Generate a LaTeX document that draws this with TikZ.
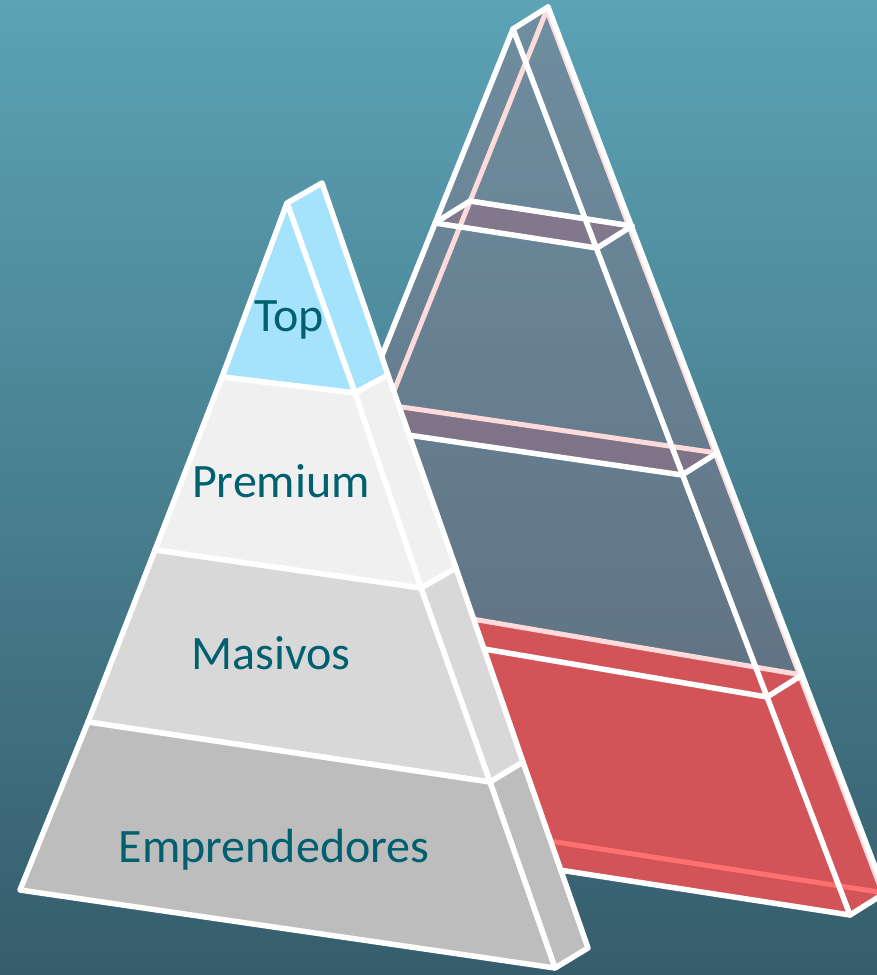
\documentclass[tikz,border=0pt]{standalone}
\usepackage{fontspec}
\setmainfont{Carlito}
\definecolor{bgtop}{RGB}{91,163,181}
\definecolor{bgbot}{RGB}{54,93,108}
\definecolor{glass}{RGB}{135,118,135}
\definecolor{shelf}{RGB}{160,105,130}
\definecolor{redlayer}{RGB}{211,84,88}
\definecolor{redline}{RGB}{255,112,112}
\definecolor{pinkline}{RGB}{255,218,218}
\definecolor{topblue}{RGB}{165,227,252}
\definecolor{premgray}{RGB}{240,240,240}
\definecolor{masgray}{RGB}{216,216,216}
\definecolor{empgray}{RGB}{189,189,189}
\definecolor{txt}{RGB}{0,96,112}
\tikzset{
  wline/.style={draw=white,line width=5.5pt,line join=round,line cap=round},
  pline/.style={draw=pinkline,line width=5pt,line cap=round},
  face/.style={draw=white,line width=5.5pt,line join=round},
  lbl/.style={text=txt,font=\fontsize{48}{56}\selectfont,inner sep=0pt}
}
\begin{document}
\begin{tikzpicture}[x=1pt,y=-1pt]
\useasboundingbox (0,0) rectangle (877,975);
\shade[top color=bgtop,bottom color=bgbot] (0,0) rectangle (877,975);
% ---------- back (glass) pyramid ----------
\coordinate (ga) at (513,29);
\coordinate (gb) at (548,7);
\coordinate (gf1l) at (435,223); \coordinate (gf1r) at (597,248);
\coordinate (gb1l) at (470,201); \coordinate (gb1r) at (632,226);
\coordinate (gf2l) at (353,427); \coordinate (gf2r) at (682,475);
\coordinate (gb2l) at (388,405); \coordinate (gb2r) at (717,453);
\coordinate (gf3l) at (278,614); \coordinate (gf3r) at (767,697);
\coordinate (gb3l) at (313,592); \coordinate (gb3r) at (802,675);
\coordinate (gf4l) at (198,814); \coordinate (gf4r) at (850,915);
\coordinate (gb4l) at (233,792); \coordinate (gb4r) at (885,893);
\fill[glass,fill opacity=0.45] (ga) -- (gb) -- (gb4r) -- (gf4r) -- (gf4l) -- cycle;
\fill[shelf,fill opacity=0.45] (gf1l) -- (gb1l) -- (gb1r) -- (gf1r) -- cycle;
\fill[shelf,fill opacity=0.45] (gf2l) -- (gb2l) -- (gb2r) -- (gf2r) -- cycle;
\fill[redlayer] (gf3l) -- (gb3l) -- (gb3r) -- (gb4r) -- (gf4r) -- (gf4l) -- cycle;
% back face lines
\draw[pline] (gb) -- (gb4l);
\draw[pline] (gb1l) -- (gb1r);
\draw[pline] (gb2l) -- (gb2r);
\draw[pline] (gb3l) -- (gb3r);
\draw[draw=redline,line width=5pt] (gb4l) -- (gb4r);
\draw[draw=pinkline,line width=3pt] ([xshift=-3.5pt]gb) -- ([xshift=-3.5pt]gb4r);
% front face and side lines
\draw[wline] (gb1l) -- (gb1r);
\draw[wline] (gf1l) -- (gb1l);
\draw[wline] (gb) -- (ga) -- (gf4l);
\draw[wline] (ga) -- (gf4r);
\draw[wline] (gb) -- (gb4r);
\draw[wline] (gf1l) -- (gf1r) -- (gb1r);
\draw[wline] (gf2l) -- (gf2r) -- (gb2r);
\draw[wline] (gf3l) -- (gf3r) -- (gb3r);
\draw[wline] (gf4l) -- (gf4r) -- (gb4r);
% ---------- front pyramid ----------
\coordinate (A) at (287,203); \coordinate (B) at (322,183);
\coordinate (L1) at (222,377); \coordinate (R1) at (355,393); \coordinate (S1) at (388,375);
\coordinate (L2) at (155,550); \coordinate (R2) at (421,588); \coordinate (S2) at (456,568);
\coordinate (L3) at (88,722);  \coordinate (R3) at (490,782); \coordinate (S3) at (523,762);
\coordinate (L4) at (20,890);  \coordinate (R4) at (555,968); \coordinate (S4) at (588,948);
% side faces
\path[face,fill=topblue]  (A) -- (B) -- (S1) -- (R1) -- cycle;
\path[face,fill=premgray] (R1) -- (S1) -- (S2) -- (R2) -- cycle;
\path[face,fill=masgray]  (R2) -- (S2) -- (S3) -- (R3) -- cycle;
\path[face,fill=empgray]  (R3) -- (S3) -- (S4) -- (R4) -- cycle;
% front faces
\path[face,fill=topblue]  (A) -- (R1) -- (L1) -- cycle;
\path[face,fill=premgray] (L1) -- (R1) -- (R2) -- (L2) -- cycle;
\path[face,fill=masgray]  (L2) -- (R2) -- (R3) -- (L3) -- cycle;
\path[face,fill=empgray]  (L3) -- (R3) -- (R4) -- (L4) -- cycle;
% labels
\node[lbl] (top) at (289,320) {Top};
\node[lbl] (prem) at (281,481) {Premium};
\node[lbl] (mas) at (271,653) {Masivos};
\node[lbl] (emp) at (274,850) {Emprendedores};
\end{tikzpicture}
\end{document}
